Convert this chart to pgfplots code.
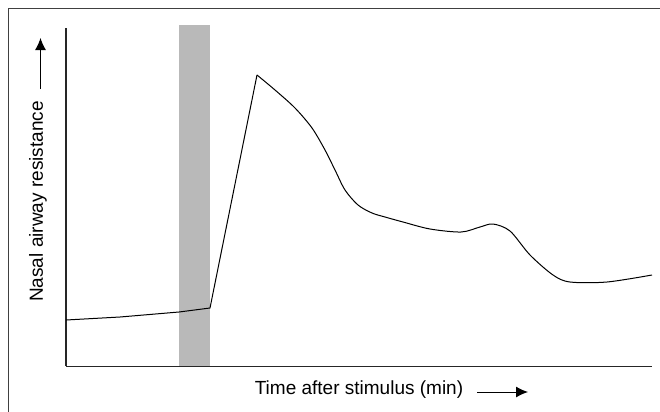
\documentclass[border=0pt]{standalone}
\usepackage{pgfplots}
\pgfplotsset{compat=1.18}
\usepackage{fontspec}
\setmainfont{Liberation Sans}
\usetikzlibrary{arrows.meta}
\definecolor{bargray}{HTML}{B9B9B9}
\definecolor{framegray}{HTML}{404040}
\begin{document}
\begin{tikzpicture}[x=1bp,y=1bp]
\path[use as bounding box] (-66,-45) rectangle (594,366);
\draw[framegray, line width=1bp] (-57,-50) -- (-57,357.5) -- (600,357.5);
\begin{axis}[
  at={(0,0)}, anchor=origin,
  scale only axis, width=586bp, height=338bp,
  xmin=0, xmax=586, ymin=0, ymax=338,
  axis x line=bottom, axis y line=left,
  axis line style={-, line width=1bp, black!85},
  ticks=none, clip=false,
]
\addplot[fill=bargray, draw=none] coordinates {(113,0) (144,0) (144,341) (113,341)} -- cycle;
\addplot[black, line width=1bp] coordinates {
(0,46) (54,49) (113,54) (144,58) (191,291)
};
\addplot[black, line width=1bp, smooth] coordinates {
(191,291) (209,276) (229,258) (246,238) (259,216) (269,196) (279,176) (292,161)
(306,153) (319,149) (337,144) (364,137) (395,134) (414,139) (427,142) (444,135)
(464,111) (487,91) (504,84) (541,84) (586,91)
};
\end{axis}
\node[rotate=90, anchor=base, font=\fontsize{19bp}{21bp}\selectfont] at (-23,164.5) {Nasal airway resistance};
\draw[line width=1bp, -{Latex[length=12bp,width=11bp]}] (-25.5,277) -- (-25.5,328);
\node[anchor=base, font=\fontsize{19bp}{21bp}\selectfont] at (293,-28.5) {Time after stimulus (min)};
\draw[line width=1bp, -{Latex[length=12bp,width=11bp]}] (411,-26) -- (462,-26);
\end{tikzpicture}
\end{document}
